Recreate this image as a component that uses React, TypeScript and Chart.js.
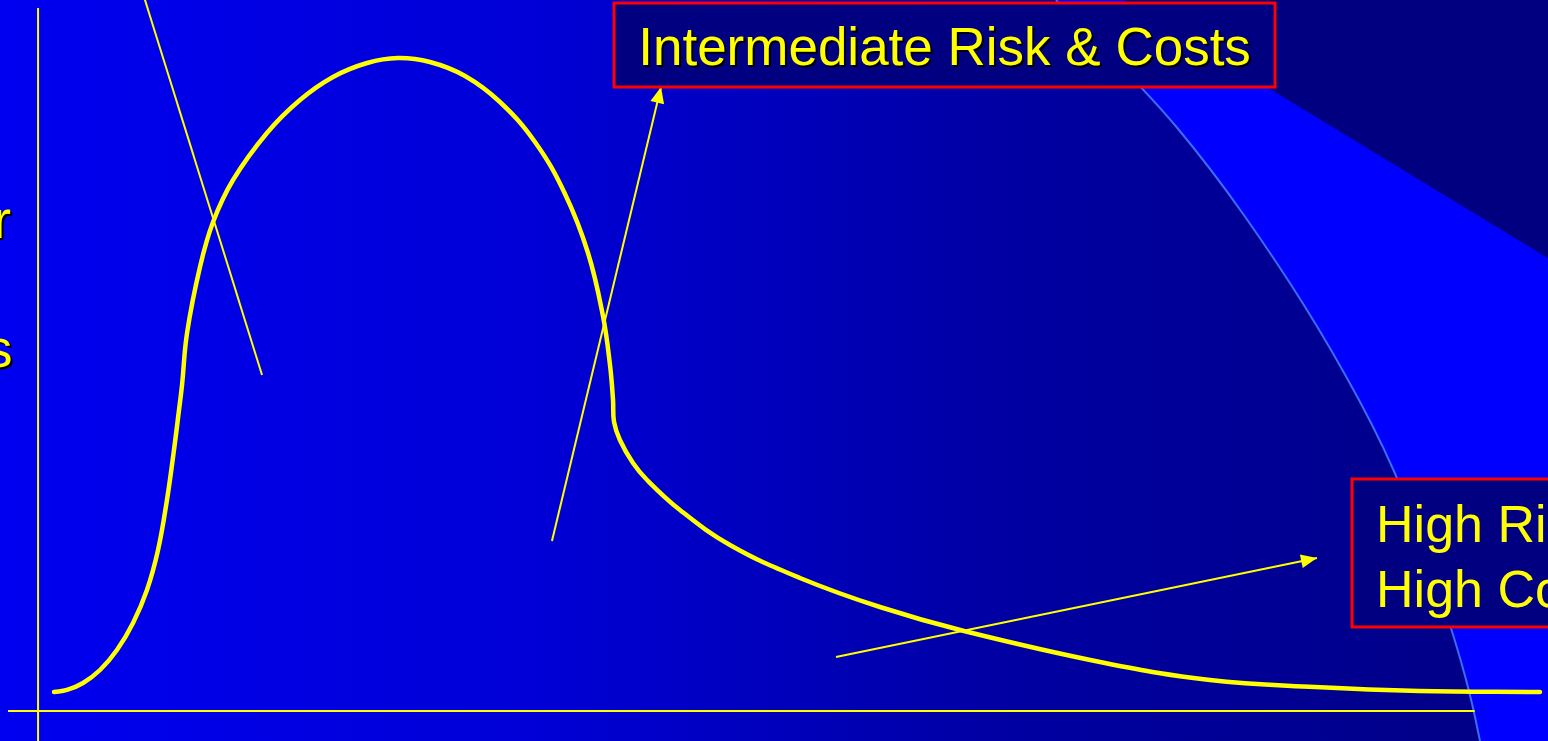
import React, { useEffect, useRef } from "react";
import { Chart, registerables } from "chart.js";

Chart.register(...registerables);

const W = 1548;
const H = 741;

// Distribution curve (x: patient spread, y: number of patients)
const curveX = [1.11, 2.01, 3.13, 4.31, 5.49, 6.61, 7.58, 8.35, 8.97, 9.46, 9.81, 10.02, 10.37, 11.27, 12.18, 13.57, 15.93, 18.23, 20.53, 22.9, 25.05, 27.28, 29.72, 32.15, 34.59, 36.68, 38.28, 39.32, 39.81, 40.02, 40.09, 40.5, 41.41, 42.39, 44.68, 48.16, 53.03, 58.6, 64.45, 74.26, 81.57, 88.88, 96.12, 104.54];
const curveY = [2.7, 2.99, 3.98, 5.83, 8.68, 12.52, 17.21, 22.9, 30.01, 37.13, 42.82, 46.37, 53.77, 63.16, 69.56, 75.53, 82.22, 86.91, 90.19, 92.18, 92.89, 92.32, 90.33, 86.63, 80.94, 73.54, 65.15, 56.19, 49.22, 44.24, 41.11, 38.55, 35.28, 32.86, 28.59, 23.61, 18.92, 14.79, 11.38, 6.83, 4.41, 3.41, 2.84, 2.7];

// Axis lines
const yAxisX = [0, 0];
const yAxisY = [-5, 100];
const xAxisX = [-2.09, 100];
const xAxisY = [0, 0];

// Pointer lines (start -> end)
const leaderX = [6.79, 15.59];
const leaderY = [105.41, 47.8];
const midArrowX = [35.77, 43.36];
const midArrowY = [24.18, 88.76];
const highArrowX = [55.54, 89.02];
const highArrowY = [7.68, 21.76];

// Label boxes
const boxLabels = ["Intermediate Risk & Costs", "High Risk\nHigh Costs"];
const boxLeft = [40.09, 91.46];
const boxRight = [86.1, 115.7];
const boxTop = [100.71, 33.0];
const boxBottom = [88.76, 11.95];

// Vertical axis title
const axisTitleLines = ["Number", "of", "Patients"];
const axisTitleX = -8.57;
const axisTitleY = 67.28;

const X_MIN = -2.65;
const X_MAX = 105.1;
const Y_MIN = -4.27;
const Y_MAX = 101.14;

const YELLOW = "#ffff00";
const FONT = "'Liberation Sans', Arial, sans-serif";

const zip = (xs: number[], ys: number[]) => xs.map((x, i) => ({ x, y: ys[i] }));

const backgroundPlugin = {
  id: "slideBackground",
  beforeDraw(chart: any) {
    const { ctx, width, height } = chart;
    ctx.save();
    const g = ctx.createLinearGradient(0, 0, width, 0);
    g.addColorStop(0, "rgb(0,0,240)");
    g.addColorStop(0.35, "rgb(0,0,214)");
    g.addColorStop(0.65, "rgb(0,0,162)");
    g.addColorStop(1, "rgb(0,0,132)");
    ctx.fillStyle = g;
    ctx.fillRect(0, 0, width, height);

    const edge = [
      [1056, 0], [1143, 87], [1210, 167], [1277, 262], [1332, 350],
      [1386, 450], [1422, 540], [1452, 630], [1470, 693], [1480, 741],
    ];
    const traceEdge = () => {
      ctx.moveTo(edge[0][0], edge[0][1]);
      for (let i = 1; i < edge.length - 1; i++) {
        const mx = (edge[i][0] + edge[i + 1][0]) / 2;
        const my = (edge[i][1] + edge[i + 1][1]) / 2;
        ctx.quadraticCurveTo(edge[i][0], edge[i][1], mx, my);
      }
      ctx.lineTo(edge[edge.length - 1][0], edge[edge.length - 1][1]);
    };

    // bright band
    ctx.beginPath();
    traceEdge();
    ctx.lineTo(width, height);
    ctx.lineTo(width, 258);
    ctx.lineTo(1124, 0);
    ctx.closePath();
    ctx.fillStyle = "#0000ff";
    ctx.fill();

    // dark corner
    ctx.beginPath();
    ctx.moveTo(1124, 0);
    ctx.lineTo(width, 0);
    ctx.lineTo(width, 258);
    ctx.closePath();
    ctx.fillStyle = "#000080";
    ctx.fill();

    // light edge stroke
    ctx.beginPath();
    traceEdge();
    ctx.strokeStyle = "#3a6cff";
    ctx.lineWidth = 2;
    ctx.stroke();
    ctx.restore();
  },
};

const arrowPlugin = {
  id: "arrowHeads",
  afterDatasetsDraw(chart: any) {
    const { ctx } = chart;
    chart.data.datasets.forEach((ds: any, i: number) => {
      if (!ds.arrowHead) return;
      const pts = chart.getDatasetMeta(i).data;
      if (pts.length < 2) return;
      const a = pts[pts.length - 2];
      const b = pts[pts.length - 1];
      const ang = Math.atan2(b.y - a.y, b.x - a.x);
      const len = 16;
      const half = 7;
      ctx.save();
      ctx.translate(b.x, b.y);
      ctx.rotate(ang);
      ctx.beginPath();
      ctx.moveTo(0, 0);
      ctx.lineTo(-len, -half);
      ctx.lineTo(-len, half);
      ctx.closePath();
      ctx.fillStyle = YELLOW;
      ctx.fill();
      ctx.restore();
    });
  },
};

const labelPlugin = {
  id: "labelBoxes",
  afterDatasetsDraw(chart: any) {
    const { ctx } = chart;
    const xs = chart.scales.x;
    const ys = chart.scales.y;
    ctx.save();
    const fontSize = 53;
    ctx.font = `${fontSize}px ${FONT}`;

    boxLabels.forEach((label, i) => {
      const l = xs.getPixelForValue(boxLeft[i]);
      const r = xs.getPixelForValue(boxRight[i]);
      const t = ys.getPixelForValue(boxTop[i]);
      const b = ys.getPixelForValue(boxBottom[i]);
      ctx.fillStyle = "#000080";
      ctx.fillRect(l, t, r - l, b - t);
      ctx.strokeStyle = "#ff0000";
      ctx.lineWidth = 3;
      ctx.strokeRect(l, t, r - l, b - t);

      const lines = label.split("\n");
      if (lines.length === 1) {
        ctx.textAlign = "center";
        ctx.textBaseline = "alphabetic";
        const cx = (l + r) / 2;
        const base = (t + b) / 2 + 0.37 * fontSize;
        ctx.fillStyle = "#000000";
        ctx.fillText(lines[0], cx + 2, base + 2);
        ctx.fillStyle = YELLOW;
        ctx.fillText(lines[0], cx, base);
      } else {
        ctx.font = `52px ${FONT}`;
        ctx.textAlign = "left";
        ctx.textBaseline = "alphabetic";
        lines.forEach((ln, j) => {
          ctx.fillStyle = YELLOW;
          ctx.fillText(ln, l + 24, t + 63 + j * 65);
        });
      }
    });

    // vertical axis title
    const tx = xs.getPixelForValue(axisTitleX);
    const ty = ys.getPixelForValue(axisTitleY);
    ctx.font = `54px ${FONT}`;
    ctx.textAlign = "center";
    axisTitleLines.forEach((ln, j) => {
      ctx.fillStyle = "#000000";
      ctx.fillText(ln, tx + 2, ty + j * 64.5 + 2);
      ctx.fillStyle = YELLOW;
      ctx.fillText(ln, tx, ty + j * 64.5);
    });
    ctx.restore();
  },
};

export default function App() {
  const canvasRef = useRef<HTMLCanvasElement>(null);

  useEffect(() => {
    const canvas = canvasRef.current;
    if (!canvas) return;
    const line = (data: { x: number; y: number }[], width: number, extra: any = {}) => ({
      data,
      showLine: true,
      borderColor: YELLOW,
      backgroundColor: YELLOW,
      borderWidth: width,
      pointRadius: 0,
      pointHoverRadius: 0,
      fill: false,
      ...extra,
    });

    const chart = new Chart(canvas, {
      type: "scatter",
      data: {
        datasets: [
          line(zip(curveX, curveY), 4.5, { tension: 0.4, borderCapStyle: "round", borderJoinStyle: "round" }),
          line(zip(leaderX, leaderY), 2),
          line(zip(midArrowX, midArrowY), 2, { arrowHead: true }),
          line(zip(highArrowX, highArrowY), 2, { arrowHead: true }),
          line(zip(yAxisX, yAxisY), 2),
          line(zip(xAxisX, xAxisY), 2),
        ],
      },
      options: {
        animation: false,
        responsive: false,
        devicePixelRatio: 1,
        layout: { padding: 0 },
        events: [],
        plugins: {
          legend: { display: false },
          tooltip: { enabled: false },
          title: { display: false },
        },
        scales: {
          x: { type: "linear", min: X_MIN, max: X_MAX, display: false },
          y: { type: "linear", min: Y_MIN, max: Y_MAX, display: false },
        },
      } as any,
      plugins: [backgroundPlugin, arrowPlugin, labelPlugin],
    });
    return () => chart.destroy();
  }, []);

  return (
    <div style={{ position: "fixed", left: 0, top: 0, width: W, height: H, overflow: "hidden" }}>
      <canvas ref={canvasRef} width={W} height={H} style={{ display: "block", width: W, height: H }} />
    </div>
  );
}
